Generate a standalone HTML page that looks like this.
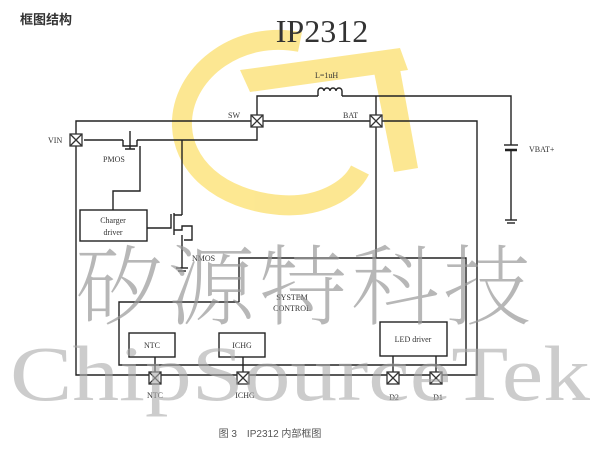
<!DOCTYPE html>
<html><head><meta charset="utf-8">
<style>
body{margin:0;width:600px;height:450px;background:#fff;overflow:hidden;position:relative;font-family:"Liberation Serif","Noto Serif CJK SC",serif}
svg{position:absolute;left:0;top:0}
</style></head><body>
<svg width="600" height="450" viewBox="0 0 600 450">
<!-- logo -->
<g opacity="0.6">
<path d="M300,42 C240,30 185,70 182,120 C180,165 220,200 280,205 C320,208 350,190 360,170" fill="none" stroke="#fbd84a" stroke-width="20"/>
<path d="M240,70 L400,48 L408,70 L250,92 Z" fill="#fbd84a"/>
<path d="M372,62 L398,58 L418,168 L394,172 Z" fill="#fbd84a"/>
</g>
<text x="20" y="24" font-family="'Liberation Sans','Noto Sans CJK SC',sans-serif" font-weight="bold" font-size="13" fill="#333">框图结构</text>
<text x="322" y="42" text-anchor="middle" font-size="32" fill="#333">IP2312</text>

<g stroke="#222" stroke-width="1.4" fill="none">
<polyline points="257,121 76,121 76,375 477,375 477,121 376,121"/>
<line x1="257" y1="121" x2="376" y2="121"/>
<polyline points="257,121 257,96 318,96"/>
<path d="M318,96 v-5 a3,3 0 0 1 6,0 a3,3 0 0 1 6,0 a3,3 0 0 1 6,0 a3,3 0 0 1 6,0 v5"/>
<polyline points="342,96 511,96 511,145"/>
<line x1="504" y1="145" x2="518" y2="145"/>
<line x1="505" y1="150" x2="517" y2="150" stroke-width="2.5"/>
<polyline points="511,150 511,220"/>
<line x1="505" y1="220" x2="517" y2="220"/><line x1="507" y1="223" x2="515" y2="223"/>
<line x1="376" y1="96" x2="376" y2="258"/>
<polyline points="84,140 123,140"/>
<polyline points="137,140 257,140 257,121"/>
<path d="M123,140 v6 h14 v-6 M125,149 h10 M130,149 v-18"/>
<polyline points="140,146 140,191 113,191 113,210"/>
<rect x="80" y="210" width="67" height="31"/>
<line x1="182" y1="140" x2="182" y2="215"/>
<path d="M147,228 h24 v-14 M174,213 v22 M174,215 h8 M174,230 h8 v-4 h10 v14 h-8 M182,235 v33"/>
<line x1="176" y1="268" x2="188" y2="268"/><line x1="178" y1="271" x2="186" y2="271"/>
<polyline points="239,302 239,258 466,258 466,365 119,365 119,302 239,302"/>
<rect x="129" y="333" width="46" height="24"/>
<rect x="219" y="333" width="46" height="24"/>
<rect x="380" y="322" width="67" height="34"/>
<line x1="155" y1="357" x2="155" y2="372"/>
<line x1="243" y1="357" x2="243" y2="372"/>
<line x1="393" y1="356" x2="393" y2="372"/>
<line x1="436" y1="356" x2="436" y2="372"/>
</g>
<g stroke="#333" stroke-width="1.3" fill="#fff">
<g transform="translate(76,140)"><rect x="-6" y="-6" width="12" height="12"/><path d="M-6,-6 6,6 M6,-6 -6,6"/></g>
<g transform="translate(257,121)"><rect x="-6" y="-6" width="12" height="12"/><path d="M-6,-6 6,6 M6,-6 -6,6"/></g>
<g transform="translate(376,121)"><rect x="-6" y="-6" width="12" height="12"/><path d="M-6,-6 6,6 M6,-6 -6,6"/></g>
<g transform="translate(155,378)"><rect x="-6" y="-6" width="12" height="12"/><path d="M-6,-6 6,6 M6,-6 -6,6"/></g>
<g transform="translate(243,378)"><rect x="-6" y="-6" width="12" height="12"/><path d="M-6,-6 6,6 M6,-6 -6,6"/></g>
<g transform="translate(393,378)"><rect x="-6" y="-6" width="12" height="12"/><path d="M-6,-6 6,6 M6,-6 -6,6"/></g>
<g transform="translate(436,378)"><rect x="-6" y="-6" width="12" height="12"/><path d="M-6,-6 6,6 M6,-6 -6,6"/></g>
</g>
<g font-size="8" fill="#333">
<text x="48" y="143">VIN</text>
<text x="103" y="162">PMOS</text>
<text x="228" y="118">SW</text>
<text x="343" y="118">BAT</text>
<text x="315" y="78">L=1uH</text>
<text x="529" y="152">VBAT+</text>
<text x="113" y="223" text-anchor="middle">Charger</text>
<text x="113" y="235" text-anchor="middle">driver</text>
<text x="192" y="261">NMOS</text>
<text x="292" y="300" text-anchor="middle">SYSTEM</text>
<text x="292" y="311" text-anchor="middle">CONTROL</text>
<text x="152" y="348" text-anchor="middle">NTC</text>
<text x="242" y="348" text-anchor="middle">ICHG</text>
<text x="413" y="342" text-anchor="middle">LED driver</text>
<text x="155" y="398" text-anchor="middle">NTC</text>
<text x="245" y="398" text-anchor="middle">ICHG</text>
<text x="394" y="400" text-anchor="middle">D2</text>
<text x="438" y="400" text-anchor="middle">D1</text>
</g>
<text x="270" y="437" text-anchor="middle" font-family="'Liberation Sans','Noto Sans CJK SC',sans-serif" font-size="10" fill="#555">图 3　IP2312 内部框图</text>
<text x="305" y="318" text-anchor="middle" font-family="'Noto Serif CJK SC',serif" font-weight="200" font-size="88" fill="#999" fill-opacity="0.7" letter-spacing="4">矽源特科技</text>
<text x="300" y="400" text-anchor="middle" font-family="'Liberation Serif',serif" font-size="78" fill="#aaa" fill-opacity="0.6" textLength="580" lengthAdjust="spacingAndGlyphs">ChipSourceTek</text>
</svg>
</body></html>
